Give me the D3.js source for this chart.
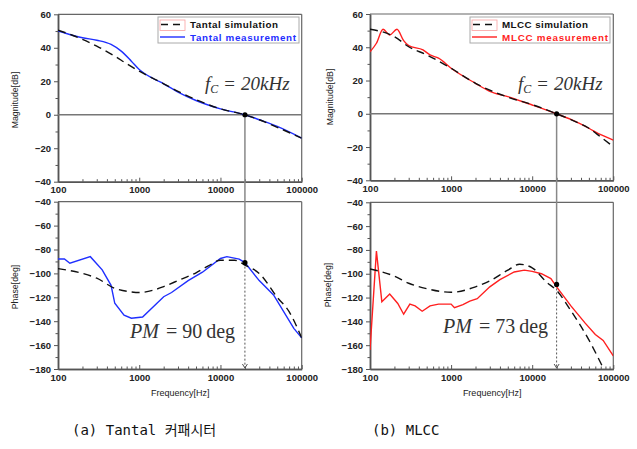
<!DOCTYPE html>
<html><head><meta charset="utf-8">
<script src="https://cdn.jsdelivr.net/npm/d3@7/dist/d3.min.js"></script>
<style>
body{margin:0;background:#fff;}
svg{display:block;}
</style></head>
<body>
<svg id="c" width="637" height="449"></svg>
<script>
// ---------- DATA ----------
const xTicks = [100, 1000, 10000, 100000];
const magTicks = [-40, -20, 0, 20, 40, 60];
const phaseTicks = [-180, -160, -140, -120, -100, -80, -60, -40];

// Tantal magnitude
const tMagSimF = [100, 150, 200, 300, 500, 700, 1000, 2000, 3000, 5000, 10000, 20000, 30000, 50000, 100000];
const tMagSimV = [50.5, 47.5, 45, 41, 35, 30.5, 26, 18.5, 14, 9, 3.5, 0, -3, -7.5, -14];
const tMagMeaF = [100, 150, 200, 300, 450, 600, 800, 1000, 1500, 2000, 3000, 5000, 10000, 20000, 30000, 50000, 100000];
const tMagMeaV = [50, 47.5, 46, 44.5, 42, 38, 32, 27, 21.5, 18.5, 13.5, 8.5, 3.5, 0, -3, -7, -14];
// Tantal phase
const tPhSimF = [100, 200, 300, 500, 800, 1000, 1500, 2000, 3000, 5000, 7000, 10000, 15000, 20000, 30000, 50000, 70000, 100000];
const tPhSimV = [-96, -100, -104, -112.5, -115.5, -116, -114, -111, -106, -99.5, -94, -89, -89, -93, -100, -120, -132, -154];
const tPhMeaF = [100, 120, 140, 250, 350, 450, 500, 650, 800, 1100, 2000, 2500, 4000, 6000, 10000, 12000, 17000, 20000, 30000, 45000, 80000, 100000];
const tPhMeaV = [-88, -88, -91.5, -86, -97, -110, -125, -135, -137.5, -136.5, -119.5, -116, -106, -99, -87.5, -86, -88, -91, -106, -118, -146, -154];

// MLCC magnitude
const mMagSimF = [100, 200, 300, 500, 1000, 2000, 5000, 10000, 20000, 30000, 50000, 70000, 100000];
const mMagSimV = [50.8, 46.4, 40.3, 35.4, 27.4, 18.3, 10, 5.5, 0, -3.5, -8.7, -14, -19.8];
const mMagMeaF = [100, 120, 145, 175, 215, 260, 300, 450, 550, 700, 1000, 2000, 3000, 5000, 10000, 20000, 30000, 50000, 70000, 100000];
const mMagMeaV = [37.3, 42.4, 50.8, 47.4, 50.8, 44, 41, 38.4, 35.4, 33.4, 27.4, 18.3, 13.5, 10.3, 5.3, 0, -3.4, -8.7, -12.6, -15.8];
// MLCC phase
const mPhSimF = [100, 200, 300, 500, 1000, 2000, 3000, 5000, 7000, 10000, 15000, 20000, 30000, 50000, 70000, 76000];
const mPhSimV = [-96, -102, -108, -112.5, -115.6, -111, -106, -97, -92, -95, -107, -114, -131, -155.6, -175, -180];
const mPhMeaF = [100, 120, 140, 175, 220, 260, 310, 360, 440, 550, 700, 1000, 1100, 1400, 1700, 2100, 3000, 4000, 6000, 8000, 10000, 13000, 17000, 20000, 30000, 45000, 60000, 75000, 100000];
const mPhMeaV = [-164, -81, -123.5, -117, -125, -134, -125.5, -127, -131.5, -127, -125.5, -125.5, -128.5, -126, -123, -121, -111, -105, -98.5, -97, -98, -100, -104, -111, -127, -141.5, -151, -156, -169];

const crossF = 20000;
const pmA = -91, pmB = -109;

// ---------- DRAW ----------
const svg = d3.select('#c');
const BLUE = '#1f2fff', RED = '#ff1f1f';
const tickFont = 'Liberation Sans, Arial, sans-serif';
const minorX = [];
[100, 1000, 10000].forEach(d => { for (let k = 2; k <= 9; k++) minorX.push(d * k); });

function panel(p) {
  const x = d3.scaleLog().domain([100, 100000]).range([p.x0, p.x1]);
  const y = d3.scaleLinear().domain(p.dom).range([p.y1, p.y0]);
  const g = svg.append('g');
  // frame top/right
  g.append('line').attr('x1', p.x0).attr('x2', p.x1).attr('y1', p.y0).attr('y2', p.y0).attr('stroke', '#666').attr('stroke-width', 1.2);
  g.append('line').attr('x1', p.x1).attr('x2', p.x1).attr('y1', p.y0).attr('y2', p.y1).attr('stroke', '#666').attr('stroke-width', 1.2);
  // x axis
  const ax = g.append('g').attr('transform', `translate(0,${p.y1})`)
    .call(d3.axisBottom(x).tickValues(xTicks).tickFormat(d3.format('d')).tickSize(-4).tickSizeOuter(0).tickPadding(5));
  g.append('g').attr('transform', `translate(0,${p.y1})`)
    .call(d3.axisBottom(x).tickValues(minorX).tickFormat('').tickSize(-2.5).tickSizeOuter(0));
  // y axis
  const ay = g.append('g').attr('transform', `translate(${p.x0},0)`)
    .call(d3.axisLeft(y).tickValues(p.ticks).tickSize(4).tickSizeOuter(0).tickPadding(3));
  const minorY = [];
  for (let v = p.dom[0] + 10; v < p.dom[1]; v += 20) minorY.push(v);
  g.append('g').attr('transform', `translate(${p.x0},0)`)
    .call(d3.axisLeft(y).tickValues(minorY).tickFormat('').tickSize(2.5).tickSizeOuter(0));
  g.selectAll('.domain').attr('stroke', '#555').attr('stroke-width', 1.5);
  g.selectAll('.tick line').attr('stroke', '#555').attr('stroke-width', 1);
  g.selectAll('.tick text').attr('font-family', tickFont).attr('font-weight', 'bold').attr('font-size', 9.5).attr('fill', '#222');
  // y label
  g.append('text').attr('transform', `translate(${p.ylx},${p.yly}) rotate(-90)`)
    .attr('text-anchor', 'middle').attr('font-family', tickFont).attr('font-size', 8.8).attr('fill', '#222').text(p.ylab);
  if (p.xlab) {
    g.append('text').attr('x', (p.x0 + p.x1) / 2 + 0.5).attr('y', 396).attr('text-anchor', 'middle')
      .attr('font-family', tickFont).attr('font-size', 9).attr('fill', '#222').text(p.xlab);
  }
  const clip = 'clip' + Math.round(p.x0) + Math.round(p.y0);
  svg.append('clipPath').attr('id', clip).append('rect').attr('x', p.x0).attr('y', p.y0).attr('width', p.x1 - p.x0).attr('height', p.y1 - p.y0);
  const lg = svg.append('g').attr('clip-path', `url(#${clip})`);
  return {x, y, g, lg};
}

function series(lg, x, y, F, V, opt) {
  const line = d3.line().x((d, i) => x(F[i])).y(d => y(d)).curve(opt.curve || d3.curveLinear);
  lg.append('path').attr('d', line(V)).attr('fill', 'none').attr('stroke', opt.color)
    .attr('stroke-width', opt.w || 1.4).attr('stroke-dasharray', opt.dash || null);
}

const panels = {
  aTop: {x0: 58, x1: 301.7, y0: 14.3, y1: 181.7, dom: [-40, 60], ticks: magTicks, ylab: 'Magnitude[dB]', ylx: 18, yly: 100},
  aBot: {x0: 58, x1: 301.7, y0: 201.7, y1: 369, dom: [-180, -40], ticks: phaseTicks, ylab: 'Phase[deg]', ylx: 18, yly: 287, xlab: 'Frequency[Hz]'},
  bTop: {x0: 370, x1: 613.3, y0: 14, y1: 180.3, dom: [-40, 60], ticks: magTicks, ylab: 'Magnitude[dB]', ylx: 333, yly: 97},
  bBot: {x0: 370, x1: 613.3, y0: 202.3, y1: 369, dom: [-180, -40], ticks: phaseTicks, ylab: 'Phase[deg]', ylx: 331, yly: 285, xlab: 'Frequency[Hz]'}
};

function side(top, bot, magS, magM, phS, phM, color, pm, legendNames, lgPos, fcPos, pmPos, pmVal) {
  const T = panel(top), B = panel(bot);
  // zero line
  T.g.append('line').attr('x1', top.x0).attr('x2', top.x1).attr('y1', T.y(0)).attr('y2', T.y(0)).attr('stroke', '#777').attr('stroke-width', 1.4);
  const xc = T.x(crossF);
  // vertical marker line
  svg.append('line').attr('x1', xc).attr('x2', xc).attr('y1', T.y(0)).attr('y2', B.y(pm)).attr('stroke', '#888').attr('stroke-width', 1.5);
  // dotted arrow
  svg.append('line').attr('x1', xc).attr('x2', xc).attr('y1', B.y(pm)).attr('y2', B.y(-180) - 1).attr('stroke', '#555').attr('stroke-width', 1).attr('stroke-dasharray', '2,2');
  svg.append('path').attr('d', `M${xc - 2.5},${B.y(-180) - 5} L${xc},${B.y(-180) - 1} L${xc + 2.5},${B.y(-180) - 5}`).attr('fill', 'none').attr('stroke', '#555').attr('stroke-width', 1);
  // series
  series(T.lg, T.x, T.y, magM[0], magM[1], {color: color, curve: d3.curveMonotoneX});
  series(T.lg, T.x, T.y, magS[0], magS[1], {color: '#111', dash: '8,5', curve: d3.curveMonotoneX});
  series(B.lg, B.x, B.y, phM[0], phM[1], {color: color});
  series(B.lg, B.x, B.y, phS[0], phS[1], {color: '#111', dash: '8,5', curve: d3.curveMonotoneX});
  // markers
  svg.append('circle').attr('cx', xc).attr('cy', T.y(0)).attr('r', 2.6).attr('fill', '#000');
  svg.append('circle').attr('cx', xc).attr('cy', B.y(pm)).attr('r', 2.6).attr('fill', '#000');
  // legend
  const L = lgPos;
  svg.append('rect').attr('x', L.x).attr('y', L.y).attr('width', L.w).attr('height', 26).attr('fill', '#fff').attr('stroke', '#aaa').attr('stroke-width', 1);
  svg.append('rect').attr('x', L.x + 2).attr('y', L.y + 3).attr('width', 25).attr('height', 10.5).attr('fill', 'none').attr('stroke', '#f9a0a0').attr('stroke-width', 0.8);
  svg.append('line').attr('x1', L.x + 3).attr('x2', L.x + 27).attr('y1', L.y + 7.5).attr('y2', L.y + 7.5).attr('stroke', '#111').attr('stroke-width', 1.4).attr('stroke-dasharray', '7,5');
  svg.append('line').attr('x1', L.x + 2).attr('x2', L.x + 27).attr('y1', L.y + 20).attr('y2', L.y + 20).attr('stroke', color).attr('stroke-width', 1.4);
  svg.append('text').attr('x', L.x + 32).attr('y', L.y + 11).attr('font-family', tickFont).attr('font-weight', 'bold').attr('font-size', 9.8)
    .attr('fill', '#111').attr('textLength', L.t1).attr('lengthAdjust', 'spacing').text(legendNames[0]);
  svg.append('text').attr('x', L.x + 32).attr('y', L.y + 24).attr('font-family', tickFont).attr('font-weight', 'bold').attr('font-size', 9.8)
    .attr('fill', color).attr('textLength', L.t2).attr('lengthAdjust', 'spacing').text(legendNames[1]);
  // fc annotation
  const fc = svg.append('text').attr('x', fcPos.x).attr('y', fcPos.y).attr('font-family', 'Liberation Serif, Times New Roman, serif').attr('font-size', 19).attr('fill', '#333');
  fc.append('tspan').attr('font-style', 'italic').text('f');
  fc.append('tspan').attr('font-style', 'italic').attr('font-size', 12).attr('dy', 3).text('C');
  fc.append('tspan').attr('dy', -3).attr('dx', 6).text('=');
  fc.append('tspan').attr('dx', 6).attr('font-style', 'italic').text('20kHz');
  const pt = svg.append('text').attr('x', pmPos.x).attr('y', pmPos.y).attr('font-family', 'Liberation Serif, Times New Roman, serif').attr('font-size', 20).attr('fill', '#333');
  pt.append('tspan').attr('font-style', 'italic').text('PM');
  pt.append('tspan').attr('dx', 7).text('=');
  pt.append('tspan').attr('dx', 5).text(pmVal);
  pt.append('tspan').attr('dx', 4).text('deg');
}

side(panels.aTop, panels.aBot, [tMagSimF, tMagSimV], [tMagMeaF, tMagMeaV], [tPhSimF, tPhSimV], [tPhMeaF, tPhMeaV], BLUE, pmA,
  ['Tantal simulation', 'Tantal measurement'], {x: 158, y: 17, w: 141, t1: 88, t2: 106}, {x: 205, y: 90}, {x: 130, y: 338}, '90');
side(panels.bTop, panels.bBot, [mMagSimF, mMagSimV], [mMagMeaF, mMagMeaV], [mPhSimF, mPhSimV], [mPhMeaF, mPhMeaV], RED, pmB,
  ['MLCC simulation', 'MLCC measurement'], {x: 470, y: 17, w: 140, t1: 86, t2: 106}, {x: 518, y: 90}, {x: 443, y: 333}, '73');

// captions
const capFont = 'DejaVu Sans Mono, Noto Sans CJK KR, monospace';
svg.append('text').attr('x', 72).attr('y', 435).attr('font-family', capFont).attr('font-size', 14).attr('fill', '#111').text('(a) Tantal 커패시터');
svg.append('text').attr('x', 372).attr('y', 435).attr('font-family', capFont).attr('font-size', 14).attr('fill', '#111').text('(b) MLCC');
</script>
</body></html>
